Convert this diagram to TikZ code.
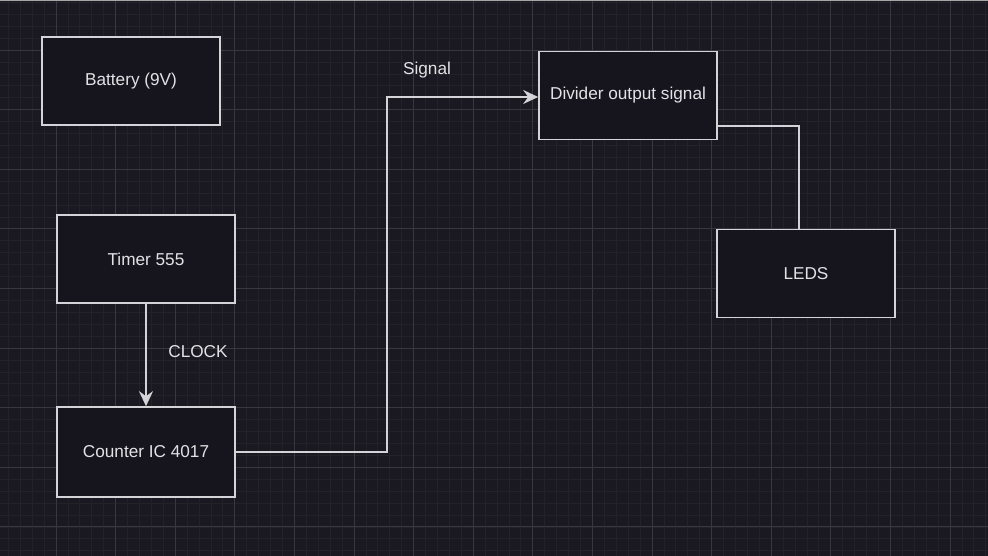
\documentclass[tikz,border=0pt]{standalone}
\usepackage{fontspec}
\setmainfont{Liberation Sans}
\usetikzlibrary{arrows.meta}
\definecolor{bg}{HTML}{1A1921}
\definecolor{minorg}{HTML}{232229}
\definecolor{majorg}{HTML}{383740}
\definecolor{boxfill}{HTML}{16151D}
\definecolor{ln}{HTML}{D4D4D8}
\definecolor{txt}{HTML}{E2E2E6}
\tikzset{
  blockbox/.style={draw=ln, fill=boxfill, line width=1.6pt, minimum width=178pt, minimum height=88pt, inner sep=0pt, text=txt, font=\fontsize{17.2}{20}\selectfont},
  conn/.style={draw=ln, line width=1.6pt},
  lbl/.style={text=txt, font=\fontsize{17.2}{20}\selectfont, inner sep=0pt},
  tip/.style={-{Stealth[length=15pt,width=14pt,inset=5pt]}}
}
\begin{document}
\begin{tikzpicture}[x=1pt,y=-1pt]
\fill[bg] (0,0) rectangle (988,556);
\useasboundingbox (0,0) rectangle (988,556);
% minor grid
\foreach \i in {0,...,84} {\draw[minorg, line width=0.8pt] ({-3.6+\i*11.92},0) -- ({-3.6+\i*11.92},556);}
\foreach \j in {0,...,48} {\draw[minorg, line width=0.8pt] (0,{-9.5+\j*11.92}) -- (988,{-9.5+\j*11.92});}
% major grid
\foreach \i in {0,...,17} {\draw[majorg, line width=1pt] ({-3.6+\i*59.6},0) -- ({-3.6+\i*59.6},556);}
\foreach \j in {0,...,10} {\draw[majorg, line width=1pt] (0,{-9.5+\j*59.6}) -- (988,{-9.5+\j*59.6});}
\draw[gray!70, line width=1.5pt] (0,0.75) -- (988,0.75);
% blocks
\node[blockbox] (battery) at (131,81) {Battery (9V)};
\node[blockbox] (timer) at (146,259) {Timer 555};
\node[blockbox, minimum height=90pt] (counter) at (146,452) {Counter IC 4017};
\node[blockbox] (divider) at (628,95.5) {Divider output signal};
\node[blockbox] (leds) at (806,273.5) {LEDS};
% connectors
\coordinate (vx) at (387,300);
\draw[conn, tip] (timer.south) -- (counter.north);
\draw[conn, tip] (counter.east) -| (vx) |- ([yshift=-1.5pt]divider.west);
\draw[conn] ([yshift=-30.5pt]divider.east) -| ([xshift=-7pt]leds.north);
% labels
\node[lbl] (clocklbl) at (198,352) {CLOCK};
\node[lbl] (signallbl) at (427,70) {Signal};
\end{tikzpicture}
\end{document}
